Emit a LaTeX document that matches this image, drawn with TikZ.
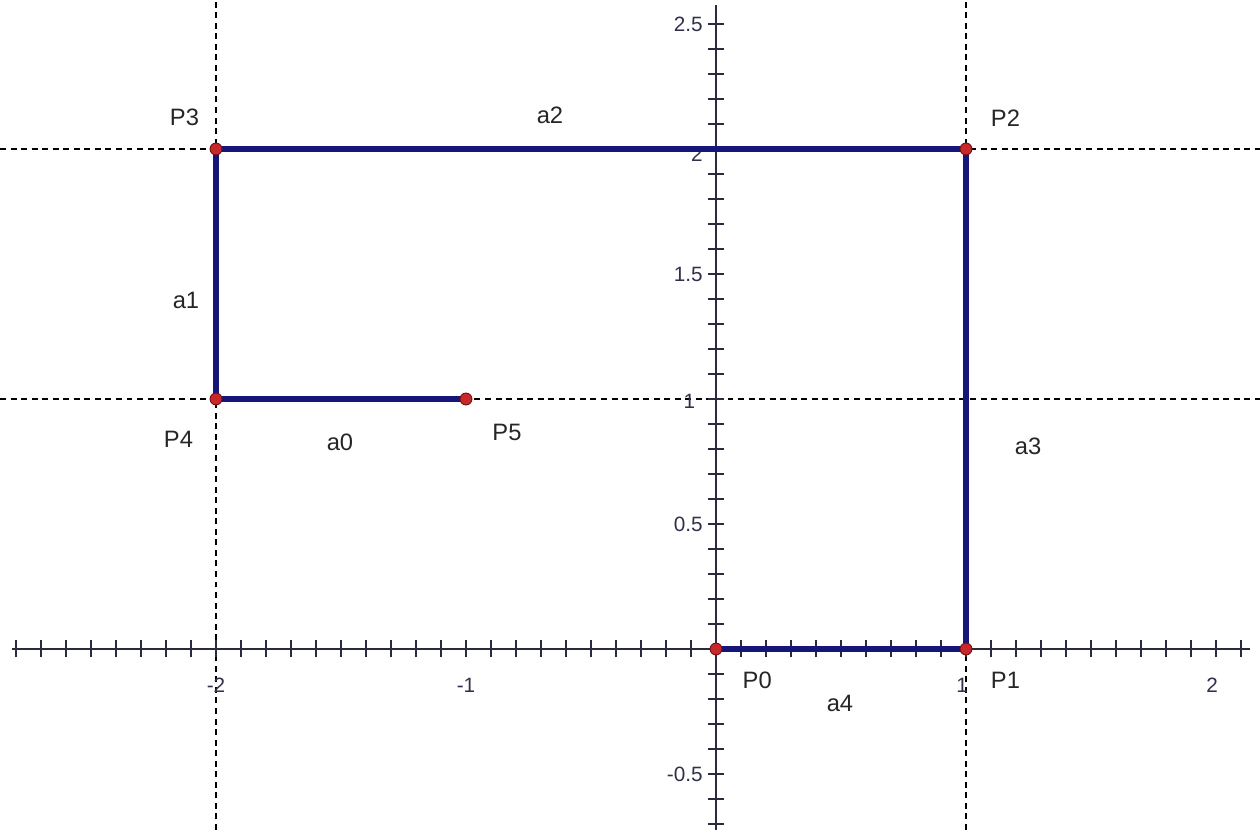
\documentclass[tikz,border=0pt]{standalone}
\usepackage{fontspec}
\setmainfont{Liberation Sans}
\definecolor{seg}{HTML}{16167A}
\definecolor{axc}{HTML}{2A2A40}
\definecolor{ptfill}{HTML}{C8282A}
\definecolor{ptline}{HTML}{6A1010}
\definecolor{ticklab}{HTML}{30304A}
\begin{document}
\begin{tikzpicture}[x=5cm,y=5cm,
  guide/.style={black,line width=0.8pt,dash pattern=on 3.4pt off 2.6pt},
  axisline/.style={axc,line width=1.2pt},
  tickmark/.style={axc,line width=1.2pt},
  segline/.style={seg,line width=2.9pt},
  ptdot/.style={circle,fill=ptfill,draw=ptline,line width=0.5pt,inner sep=0pt,minimum size=6.8pt},
  ptlab/.style={font=\fontsize{13.5}{15}\selectfont,text=black!85},
  ticklabel/.style={font=\fontsize{11.8}{13}\selectfont,text=ticklab,inner sep=1pt}]
\useasboundingbox (-2.864,-0.724) rectangle (2.176,2.596);
% guides
\draw[guide] (-2,-0.724) -- (-2,2.596);
\draw[guide] (1,-0.724) -- (1,2.596);
\draw[guide] (-2.864,2) -- (2.176,2);
\draw[guide] (-2.864,1) -- (2.176,1);
% tick labels
\node[ticklabel,anchor=east] (ty25) at (-0.045,2.5) {2.5};
\node[ticklabel,anchor=east] (ty15) at (-0.045,1.5) {1.5};
\node[ticklabel,anchor=east] (ty05) at (-0.045,0.5) {0.5};
\node[ticklabel,anchor=east] (tym05) at (-0.045,-0.5) {-0.5};
\node[ticklabel,anchor=east] (ty2) at (-0.045,1.98) {2};
\node[ticklabel,anchor=east] (ty1) at (-0.075,0.99) {1};
\node[ticklabel] (txm2) at (-2,-0.145) {-2};
\node[ticklabel] (txm1) at (-1,-0.145) {-1};
\node[ticklabel] (tx1) at (0.985,-0.145) {1};
\node[ticklabel] (tx2) at (1.985,-0.145) {2};
% axes
\draw[axisline] (-2.816,0) -- (2.136,0);
\draw[axisline] (0,-0.724) -- (0,2.576);
\foreach \i in {-28,...,21} {\draw[tickmark] (\i/10,-0.034) -- (\i/10,0.034);}
\foreach \j in {-7,...,25} {\draw[tickmark] (-0.034,\j/10) -- (0.034,\j/10);}
% points
\coordinate (c0) at (0,0);
\coordinate (c1) at (1,0);
\coordinate (c2) at (1,2);
\coordinate (c3) at (-2,2);
\coordinate (c4) at (-2,1);
\coordinate (c5) at (-1,1);
% segments
\draw[segline] (c4) -- (c5);
\draw[segline] (c4) -- (c3);
\draw[segline] (c3) -- (c2);
\draw[segline] (c2) -- (c1);
\draw[segline] (c0) -- (c1);
\foreach \k in {0,...,5} {\node[ptdot] (P\k) at (c\k) {};}
% labels
\node[ptlab] (lP3) at (-2.126,2.125) {P3};
\node[ptlab] (lP2) at (1.158,2.125) {P2};
\node[ptlab] (lP4) at (-2.15,0.84) {P4};
\node[ptlab] (lP5) at (-0.836,0.865) {P5};
\node[ptlab] (lP0) at (0.165,-0.125) {P0};
\node[ptlab] (lP1) at (1.158,-0.125) {P1};
\node[ptlab] (la0) at (-1.504,0.826) {a0};
\node[ptlab] (la1) at (-2.12,1.396) {a1};
\node[ptlab] (la2) at (-0.664,2.134) {a2};
\node[ptlab] (la3) at (1.248,0.81) {a3};
\node[ptlab] (la4) at (0.496,-0.216) {a4};
\end{tikzpicture}
\end{document}
